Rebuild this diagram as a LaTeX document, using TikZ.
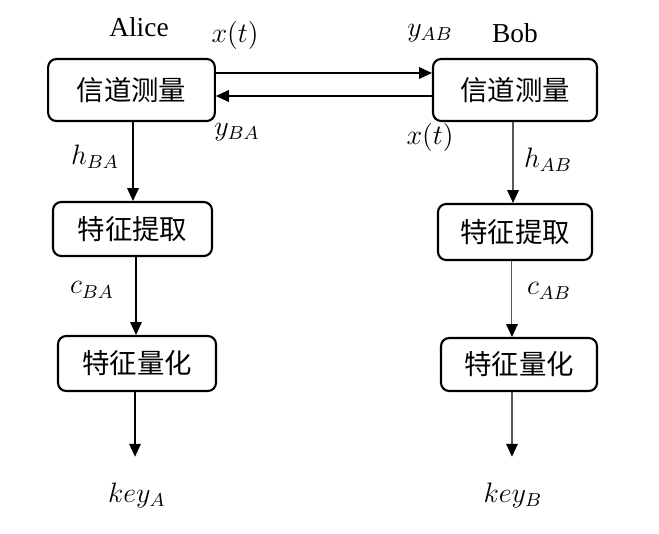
\documentclass[tikz,border=0pt]{standalone}
\usepackage{fontspec}
\setmainfont{Liberation Serif}
\newfontfamily\cjkfont{Noto Sans CJK SC}
\usetikzlibrary{arrows.meta}

\begin{document}
\begin{tikzpicture}[x=0.015cm, y=-0.015cm, every node/.style={font=\fontsize{11.7}{14}\selectfont}]
  \tikzstyle{stagebox}=[rectangle, rounded corners=3.5pt, draw, line width=0.9pt, inner sep=0pt,
  font=\cjkfont\fontsize{11.7}{14}\selectfont]
  \tikzstyle{flow}=[-{Triangle[length=5.5pt, width=5pt, color=black]}, line width=0.45pt]
  \useasboundingbox (0,0) rectangle (659,533);
  % Alice side
  \node at (139,27) (alice) {Alice};
  \node[stagebox, minimum width=2.5cm, minimum height=0.93cm] at (131.5,90) (measA) {信道测量};
  \node[stagebox, minimum width=2.385cm, minimum height=0.81cm] at (132.5,229) (featA) {特征提取};
  \node[stagebox, minimum width=2.37cm, minimum height=0.825cm] at (137,363.5) (quantA) {特征量化};
  \node at (137,495) (keyA) {$key_A$};
  % Bob side
  \node at (515,33) (bob) {Bob};
  \node[stagebox, minimum width=2.46cm, minimum height=0.93cm] at (515,90) (measB) {信道测量};
  \node[stagebox, minimum width=2.31cm, minimum height=0.84cm] at (515,232) (featB) {特征提取};
  \node[stagebox, minimum width=2.34cm, minimum height=0.795cm] at (519,364.5) (quantB) {特征量化};
  \node at (513,495) (keyB) {$key_B$};
  % probe exchange
  \draw[flow] ([yshift=0.255cm]measA.east) -- ([yshift=0.255cm]measA.east -| measB.west);
  \draw[flow] ([yshift=-0.09cm]measB.west) -- ([yshift=-0.09cm]measB.west -| measA.east);
  \node at (235,35) (xa) {$x(t)$};
  \node at (430,33) (yab) {$y_{AB}$};
  \node at (237,132) (yba) {$y_{BA}$};
  \node at (430,137) (xb) {$x(t)$};
  % processing chains
  \draw[flow] ([xshift=0.64pt]measA.south) -- ([xshift=0.64pt]measA.south |- featA.north);
  \draw[flow] ([xshift=1.5pt]featA.south) -- ([xshift=1.5pt]featA.south |- quantA.north);
  \draw[flow, shorten >=7.5pt] ([xshift=-0.85pt]quantA.south) -- ([xshift=-0.85pt]quantA.south |- keyA.north);
  \draw[flow, black!65] ([xshift=-0.85pt]measB.south) -- ([xshift=-0.85pt]measB.south |- featB.north);
  \draw[flow, black!65] ([xshift=-1.3pt]featB.south) -- ([xshift=-1.3pt]featB.south |- quantB.north);
  \draw[flow, black!65, shorten >=7.5pt] ([xshift=-3pt]quantB.south) -- ([xshift=-3pt]quantB.south |- keyB.north);
  \node at (95,157) (hba) {$h_{BA}$};
  \node at (92,290) (cba) {$c_{BA}$};
  \node at (548,160) (hab) {$h_{AB}$};
  \node at (549,291) (cab) {$c_{AB}$};
\end{tikzpicture}
\end{document}
